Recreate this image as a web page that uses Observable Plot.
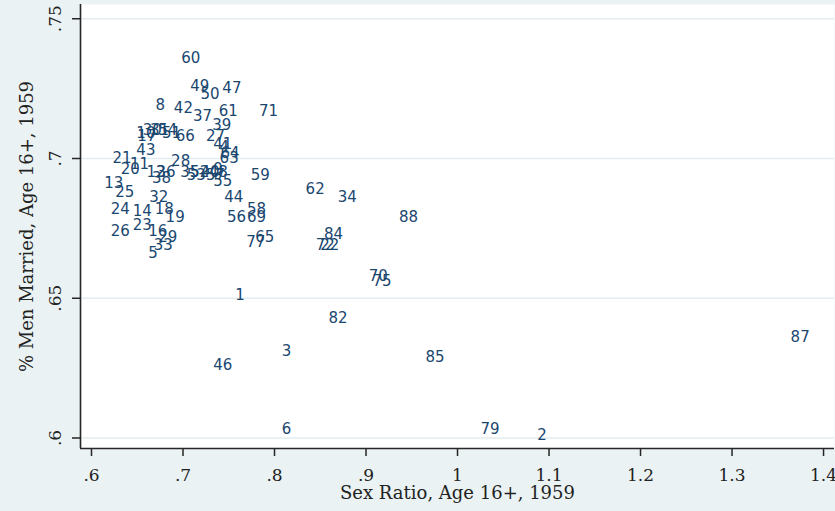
<!DOCTYPE html>
<html>
<head>
<meta charset="utf-8">
<script src="https://cdn.jsdelivr.net/npm/d3@7"></script>
<script src="https://cdn.jsdelivr.net/npm/@observablehq/plot@0.6"></script>
<style>
  html, body { margin: 0; padding: 0; background: #eaf2f3; }
  #chart svg { display: block; }
</style>
</head>
<body>
<div id="chart"></div>
<script>
// Region labels and their values
const labels = [
  "60","49","50","47","8","42","37","61","71","39",
  "10","17","30","31","54","51","66","27","41","4",
  "64","63","43","21","20","11","13","25","12","38",
  "36","28","35","53","52","40","48","9","55","57",
  "59","24","14","18","32","19","26","23","16","29",
  "33","5","44","56","58","69","77","65","62","34",
  "88","84","72","22","70","75","1","82","3","85",
  "87","46","6","79","2"
];
const sexRatio = [
  0.698,0.708,0.719,0.743,0.670,0.690,0.711,0.739,0.783,0.732,
  0.649,0.650,0.656,0.664,0.673,0.677,0.692,0.725,0.733,0.740,
  0.741,0.740,0.649,0.623,0.632,0.642,0.614,0.626,0.660,0.666,
  0.671,0.687,0.697,0.704,0.708,0.719,0.728,0.733,0.733,0.725,
  0.774,0.621,0.645,0.669,0.663,0.681,0.621,0.645,0.662,0.673,
  0.668,0.662,0.745,0.748,0.770,0.770,0.769,0.779,0.834,0.869,
  0.936,0.854,0.845,0.850,0.903,0.907,0.757,0.859,0.808,0.965,
  1.364,0.733,0.808,1.025,1.087
];
const menMarried = [
  0.736,0.726,0.723,0.725,0.719,0.718,0.715,0.717,0.717,0.712,
  0.709,0.708,0.710,0.710,0.710,0.709,0.708,0.708,0.705,0.704,
  0.702,0.700,0.703,0.700,0.696,0.698,0.691,0.688,0.695,0.693,
  0.695,0.699,0.695,0.694,0.695,0.695,0.695,0.696,0.692,0.694,
  0.694,0.682,0.681,0.682,0.686,0.679,0.674,0.676,0.674,0.672,
  0.669,0.666,0.686,0.679,0.682,0.679,0.670,0.672,0.689,0.686,
  0.679,0.673,0.669,0.669,0.658,0.656,0.651,0.643,0.631,0.629,
  0.636,0.626,0.603,0.603,0.601
];
const xTicks = [0.6, 0.7, 0.8, 0.9, 1.0, 1.1, 1.2, 1.3, 1.4];
const xTickLabels = [".6", ".7", ".8", ".9", "1", "1.1", "1.2", "1.3", "1.4"];
const yTicks = [0.6, 0.65, 0.7, 0.75];
const yTickLabels = [".6", ".65", ".7", ".75"];
const xTitle = "Sex Ratio, Age 16+, 1959";
const yTitle = "% Men Married, Age 16+, 1959";

const rows = labels.map((l, i) => ({label: l, x: sexRatio[i], y: menMarried[i]}));
const xTickRows = xTicks.map((v, i) => ({v, t: xTickLabels[i]}));
const yTickRows = yTicks.map((v, i) => ({v, t: yTickLabels[i]}));

const serif = "'DejaVu Serif', 'Liberation Serif', serif";
const axisColor = "#262626";

const chart = Plot.plot({
  width: 835,
  height: 511,
  marginLeft: 80,
  marginRight: 1,
  marginTop: 4,
  marginBottom: 63,
  style: {background: "#eaf2f3", overflow: "visible"},
  x: {domain: [0.58798, 1.41198], axis: null},
  y: {domain: [0.596243, 0.7551], axis: null},
  marks: [
    Plot.frame({fill: "white", stroke: "none"}),
    Plot.gridY(yTicks, {stroke: "#e3ecef", strokeOpacity: 1, strokeWidth: 1.3}),
    Plot.axisX(xTicks, {tickSize: 8, tickFormat: () => "", stroke: axisColor, strokeWidth: 1.5}),
    Plot.axisY(yTicks, {tickSize: 8, tickFormat: () => "", stroke: axisColor, strokeWidth: 1.5}),
    Plot.ruleX([0.58798], {stroke: axisColor, strokeWidth: 1.6}),
    Plot.ruleY([0.596243], {stroke: axisColor, strokeWidth: 1.6}),
    Plot.text(xTickRows, {x: "v", text: "t", frameAnchor: "bottom", dy: 27, fontFamily: serif, fontSize: 17, fill: "#222", lineAnchor: "middle"}),
    Plot.text(yTickRows, {y: "v", text: "t", frameAnchor: "left", dx: -25, rotate: -90, fontFamily: serif, fontSize: 17, fill: "#222", textAnchor: "middle", lineAnchor: "middle"}),
    Plot.text([xTitle], {text: d => d, frameAnchor: "bottom", dy: 45, fontFamily: serif, fontSize: 18, fill: "#222", lineAnchor: "middle"}),
    Plot.text([yTitle], {text: d => d, frameAnchor: "left", dx: -53, rotate: -90, fontFamily: serif, fontSize: 18, fill: "#222", textAnchor: "middle", lineAnchor: "middle"}),
    Plot.text(rows, {x: "x", y: "y", text: "label", textAnchor: "start", lineAnchor: "middle", fill: "#1a476f", fontFamily: "'DejaVu Sans', sans-serif", fontSize: 15})
  ]
});
document.getElementById("chart").appendChild(chart);
</script>
</body>
</html>
